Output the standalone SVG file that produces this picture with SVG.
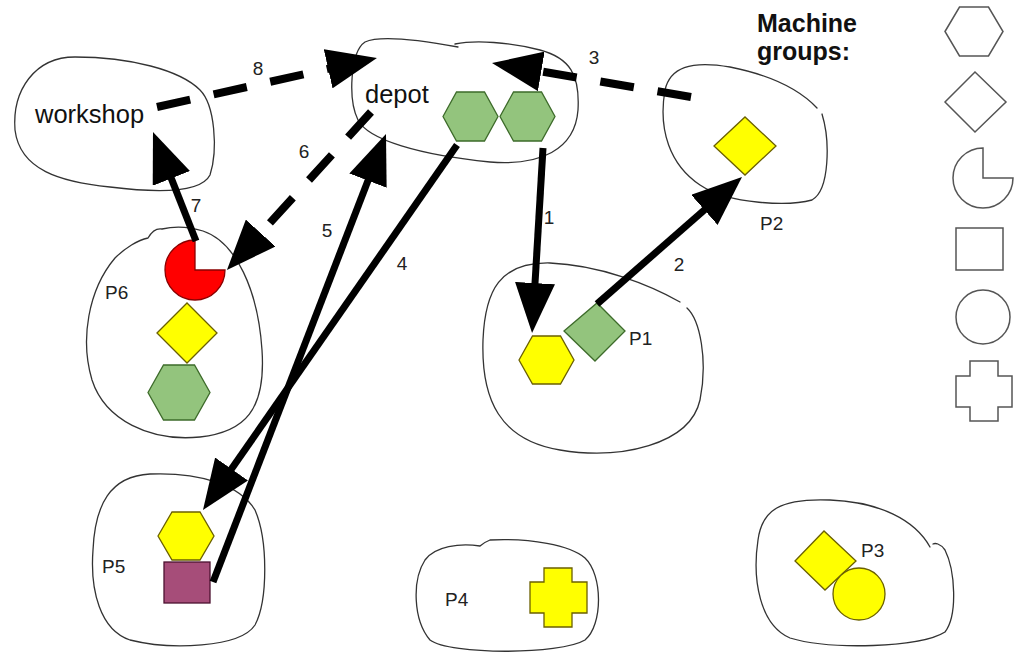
<svg xmlns="http://www.w3.org/2000/svg" width="1024" height="655" viewBox="0 0 1024 655">
<defs>
<style>
.blob{fill:none;stroke:#333;stroke-width:1.3;stroke-linejoin:round;stroke-linecap:round}
.lbl{font-family:"Liberation Sans",Arial,sans-serif;font-size:19px;fill:#222}
.big{font-family:"Liberation Sans",Arial,sans-serif;font-size:25.5px;fill:#111}
.title{font-family:"Liberation Sans",Arial,sans-serif;font-size:25px;font-weight:bold;fill:#111}
.green{fill:#93c47d;stroke:#3d6b2a;stroke-width:1.3}
.yellow{fill:#ffff00;stroke:#6b6000;stroke-width:1.3}
.red{fill:#ff0000;stroke:#8a0000;stroke-width:1.3}
.purple{fill:#a64d79;stroke:#4c1130;stroke-width:1.3}
.leg{fill:#fff;stroke:#555;stroke-width:1.5}
.solid{fill:none;stroke:#000;stroke-width:7}
.dash{fill:none;stroke:#000;stroke-width:8;stroke-dasharray:34 24}
</style>
<marker id="ah" markerUnits="userSpaceOnUse" viewBox="0 0 50 40" markerWidth="50" markerHeight="40" refX="2" refY="20" orient="auto">
<path d="M0,0 L50,20 L0,40 Z" fill="#000"/>
</marker>
</defs>
<rect width="1024" height="655" fill="#fff"/>

<g id="workshop">
<path class="blob" d="M15,130 C12,90 35,57 75,57 C130,57 180,70 200,90 C215,105 218,150 210,175 C200,195 150,192 110,187 C60,182 20,170 15,130 Z"/>
<text class="big" x="35" y="123">workshop</text>
</g>

<g id="depot">
<path class="blob" d="M458,47 C420,40 380,35 365,42 C350,52 348,100 358,120 C368,140 420,155 490,162 C540,166 575,150 578,110 C580,75 570,58 540,50 C510,42 475,40 455,44"/>
<text class="big" x="365" y="103">depot</text>
<polygon class="green" points="443,116.5 456.5,92 484.5,92 498,116.5 484.5,141 456.5,141"/>
<polygon class="green" points="500,116.5 513.5,92 541.5,92 555,116.5 541.5,141 513.5,141"/>
</g>

<g id="P2">
<path class="blob" d="M817,108 C800,90 770,75 730,67 C690,60 670,68 665,90 C658,130 670,165 700,185 C730,205 790,206 812,200 C830,190 830,140 822,114"/>
<polygon class="yellow" points="714,146 745,117 776,146 745,175"/>
<text class="lbl" x="760" y="230">P2</text>
</g>

<g id="P1">
<path class="blob" d="M680,302 C650,285 600,265 550,263 C500,262 485,290 483,340 C481,400 500,440 560,450 C620,460 690,445 700,400 C708,360 700,320 687,308"/>
<polygon class="yellow" points="519,360 532.5,336 560.5,336 574,360 560.5,384 532.5,384"/>
<polygon class="green" points="564,331 597,303 625,331 595,361"/>
<text class="lbl" x="629" y="345">P1</text>
</g>

<g id="P6">
<path class="blob" d="M148,238 C152,231 156,228 162,229 C175,226 190,227 203,231 C236,242 258,290 262,350 C266,410 245,432 200,437 C150,442 105,420 92,380 C80,340 88,290 115,258 C125,248 138,240 148,238 Z"/>
<path class="red" d="M195,270 L225,270 A30,30 0 1,1 195,240 Z"/>
<polygon class="yellow" points="157,333 187,303 217,333 187,363"/>
<polygon class="green" points="148,392.5 163.5,365 194.5,365 210,392.5 194.5,420 163.5,420"/>
<text class="lbl" x="105" y="299">P6</text>
</g>

<g id="P5">
<path class="blob" d="M150,474 C200,472 240,485 255,510 C268,540 268,600 255,625 C240,648 170,650 130,640 C100,630 90,590 93,550 C95,505 110,476 150,474 Z"/>
<polygon class="yellow" points="158,536 172,512 200,512 214,536 200,560 172,560"/>
<rect class="purple" x="164" y="562" width="46" height="41"/>
<text class="lbl" x="102" y="573">P5</text>
</g>

<g id="P4">
<path class="blob" d="M480,546 C460,543 435,546 425,560 C412,580 413,620 430,640 C450,655 560,655 585,640 C603,625 603,575 585,558 C570,545 530,538 490,540 C485,542 482,544 480,546 Z"/>
<polygon class="yellow" points="544,568 572,568 572,582 587,582 587,613 572,613 572,627 544,627 544,613 530,613 530,582 544,582"/>
<text class="lbl" x="445" y="606">P4</text>
</g>

<g id="P3">
<path class="blob" d="M930,547 C915,520 880,502 830,500 C780,498 762,510 758,540 C752,580 760,625 790,638 C830,650 920,648 945,632 C958,615 955,570 945,550 C940,543 935,543 933,544"/>
<polygon class="yellow" points="795,561 824,531 856,561 825,590"/>
<circle class="yellow" cx="859" cy="594" r="26"/>
<text class="lbl" x="861" y="557">P3</text>
</g>

<g id="legend">
<text class="title" x="757" y="32">Machine</text>
<text class="title" x="757" y="60">groups:</text>
<polygon class="leg" points="945,31.5 959.5,7 988.5,7 1003,31.5 988.5,56 959.5,56"/>
<polygon class="leg" points="945,102 975,72 1006,102 975,132"/>
<path class="leg" d="M983,178 L1013,178 A30,30 0 1,1 983,148 Z"/>
<rect class="leg" x="956" y="228" width="47" height="42"/>
<circle class="leg" cx="983" cy="317" r="27"/>
<polygon class="leg" points="970,361 998,361 998,376 1012,376 1012,407 998,407 998,421 970,421 970,407 956,407 956,376 970,376"/>
</g>

<g id="connectors">
<line class="solid" x1="543" y1="148" x2="534.9" y2="285.1" marker-end="url(#ah)"/>
<line class="solid" x1="597" y1="304" x2="705.9" y2="208.6" marker-end="url(#ah)"/>
<line class="dash" x1="691" y1="97" x2="539.3" y2="71.1" marker-end="url(#ah)"/>
<line class="solid" x1="457" y1="145" x2="230.4" y2="470.6" marker-end="url(#ah)"/>
<line class="solid" x1="213" y1="582" x2="368.7" y2="178.8" marker-end="url(#ah)"/>
<line class="dash" x1="371" y1="112" x2="259.3" y2="234.5" marker-end="url(#ah)"/>
<line class="solid" x1="196" y1="241" x2="170.6" y2="176.6" marker-end="url(#ah)"/>
<line class="dash" x1="157" y1="107" x2="330.1" y2="68.4" marker-end="url(#ah)"/>
<text class="lbl" x="549" y="224" text-anchor="middle">1</text>
<text class="lbl" x="679" y="271" text-anchor="middle">2</text>
<text class="lbl" x="594" y="64" text-anchor="middle">3</text>
<text class="lbl" x="402" y="270" text-anchor="middle">4</text>
<text class="lbl" x="327" y="237" text-anchor="middle">5</text>
<text class="lbl" x="304" y="158" text-anchor="middle">6</text>
<text class="lbl" x="196" y="212" text-anchor="middle">7</text>
<text class="lbl" x="258" y="75" text-anchor="middle">8</text>
</g>
</svg>
